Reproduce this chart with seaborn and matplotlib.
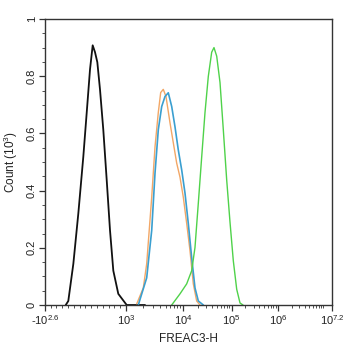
import numpy as np
import pandas as pd
import matplotlib
matplotlib.use("Agg")
import matplotlib.pyplot as plt
import seaborn as sns

# Histogram outlines: fluorescence intensity (FREAC3-H) vs count (x10^3)
black_x = [-40, 4, 91, 177, 263, 322, 379, 425, 465, 505, 551, 608, 667, 724, 781, 867, 1028, 1439, 2154]
black_y = [0.0, 0.014, 0.144, 0.320, 0.518, 0.673, 0.824, 0.908, 0.884, 0.849, 0.754, 0.613, 0.437, 0.261, 0.120, 0.039, 0.0, 0.0, 0.0]

orange_x = [1541, 2012, 2307, 2825, 3228, 3687, 4062, 4510, 5031, 5913, 6761, 7752, 8855, 10143, 11920, 13940, 16300, 19140, 22410]
orange_y = [0.004, 0.060, 0.144, 0.377, 0.553, 0.673, 0.743, 0.754, 0.729, 0.637, 0.567, 0.496, 0.447, 0.377, 0.285, 0.190, 0.074, 0.014, 0.0]

blue_x = [1643, 2307, 2825, 3228, 3687, 4230, 4833, 5521, 6336, 7239, 8270, 9490, 11000, 12860, 15110, 17660, 20690, 26220]
blue_y = [0.0, 0.095, 0.261, 0.461, 0.613, 0.694, 0.729, 0.742, 0.694, 0.623, 0.542, 0.472, 0.391, 0.285, 0.165, 0.060, 0.014, 0.0]

green_x = [6336, 8855, 11920, 15110, 17660, 20690, 24300, 28420, 33230, 39060, 43550, 49550, 57950, 67770, 79610, 93120, 109300, 129400, 152400, 176700]
green_y = [0.0, 0.039, 0.074, 0.120, 0.201, 0.356, 0.518, 0.673, 0.799, 0.884, 0.900, 0.870, 0.778, 0.613, 0.437, 0.290, 0.155, 0.055, 0.007, 0.0]

series_names = ["isotype", "sample A", "sample B", "FREAC3"]
series_colors = ["#111111", "#F2A766", "#3A9FD0", "#4FD24A"]

x_tick_values = [-10 ** 2.6, 1e3, 1e4, 1e5, 1e6, 10 ** 7.2]
x_tick_labels = [r"-$10^{2.6}$", r"$10^{3}$", r"$10^{4}$", r"$10^{5}$", r"$10^{6}$", r"$10^{7.2}$"]
y_tick_values = [0, 0.2, 0.4, 0.6, 0.8, 1]
y_tick_labels = ["0", "0.2", "0.4", "0.6", "0.8", "1"]

# Logicle-like display: linear below 10^3, logarithmic above
_G = np.array([-0.3981, 1.0, 2.0, 3.0, 4.0, 5.2])
_D = np.array([0.0, 81.0, 138.0, 186.5, 233.0, 287.0])


def _forward(v):
    v = np.asarray(v, dtype=float)
    g = np.where(v <= 1000, v / 1000.0, 1 + np.log10(np.maximum(v, 1000.0) / 1000.0))
    return np.interp(g, _G, _D)


def _inverse(d):
    d = np.asarray(d, dtype=float)
    g = np.interp(d, _D, _G)
    return np.where(g <= 1, g * 1000.0, 1000.0 * 10 ** (np.maximum(g, 1.0) - 1))


frames = []
for name, xs, ys in zip(series_names,
                        [black_x, orange_x, blue_x, green_x],
                        [black_y, orange_y, blue_y, green_y]):
    frames.append(pd.DataFrame({"x": xs, "y": ys, "series": name}))
df = pd.concat(frames, ignore_index=True)

sns.set_style("ticks")
plt.rcParams["font.family"] = ["Liberation Sans", "DejaVu Sans"]
plt.rcParams["mathtext.fontset"] = "custom"
plt.rcParams["mathtext.rm"] = "Liberation Sans"
plt.rcParams["mathtext.it"] = "Liberation Sans:italic"

fig = plt.figure(figsize=(3.46, 3.5), dpi=100)
ax = fig.add_axes([45 / 346, 1 - 305 / 350, 287 / 346, 286 / 350])
ax.set_xscale("function", functions=(_forward, _inverse))

widths = {"isotype": 1.3, "sample A": 1.0, "sample B": 1.2, "FREAC3": 1.0}
for name, color in zip(series_names, series_colors):
    sub = df[df["series"] == name]
    sns.lineplot(data=sub, x="x", y="y", sort=False, estimator=None,
                 color=color, linewidth=widths[name], ax=ax, legend=False)

ax.set_xlim(-10 ** 2.6, 10 ** 7.2)
ax.set_ylim(0, 1.0)

ax.set_xticks(x_tick_values)
ax.set_xticklabels(x_tick_labels, fontsize=8, color="#222222")
minor_x = list(range(-300, 1000, 100))
for dec in range(3, 7):
    minor_x += [m * 10 ** dec for m in range(2, 10)]
minor_x.append(1e7)
ax.set_xticks(minor_x, minor=True)

ax.set_yticks(y_tick_values)
ax.set_yticklabels(y_tick_labels, fontsize=8, color="#222222", rotation=90, va="center")
ax.set_yticks(np.arange(0, 1.0001, 0.05), minor=True)

ax.tick_params(axis="both", which="major", length=4, width=0.9, color="#333333", pad=2)
ax.tick_params(axis="both", which="minor", length=2, width=0.6, color="#333333")
for s in ax.spines.values():
    s.set_color("#333333")
    s.set_linewidth(1.0)

ax.set_xlabel("FREAC3-H", fontsize=8.5, color="#222222", labelpad=4)
ax.set_ylabel(r"Count $(10^{3})$", fontsize=8.5, color="#222222", labelpad=5)

fig.savefig("out.png", dpi=100, facecolor="white")
